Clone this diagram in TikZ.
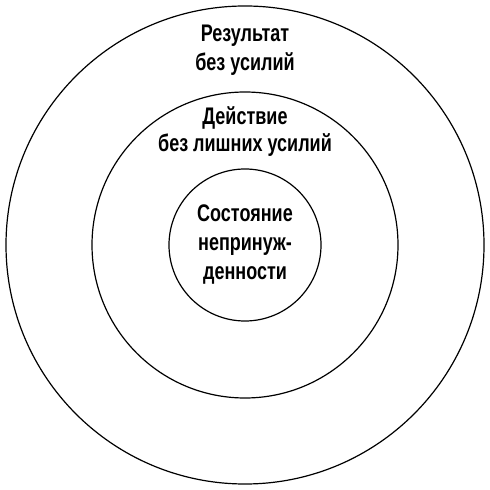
\documentclass[tikz,border=0pt]{standalone}
\usepackage{fontspec}
\setmainfont{Liberation Sans}[FakeStretch=0.75]
\begin{document}
\begin{tikzpicture}[x=1pt,y=1pt,
  ring/.style={draw=black,line width=1.2pt,circle,inner sep=0pt},
  lbl/.style={font=\fontsize{24}{29}\selectfont\bfseries,align=center,inner sep=0pt,anchor=base}]
\useasboundingbox (0,0) rectangle (490,490);
\node[ring,minimum size=478pt] (outer) at (245,245) {};
\node[ring,minimum size=306pt] (middle) at (245,245) {};
\node[ring,minimum size=152pt] (inner) at (245,245) {};
\node[lbl] (t1) at (245,419) {Результат\\без усилий};
\node[lbl,font=\fontsize{24}{27}\selectfont\bfseries] (t2) at (245,338) {Действие\\без лишних усилий};
\node[lbl] (t3) at (245,210) {Состояние\\непринуж-\\денности};
\end{tikzpicture}
\end{document}
